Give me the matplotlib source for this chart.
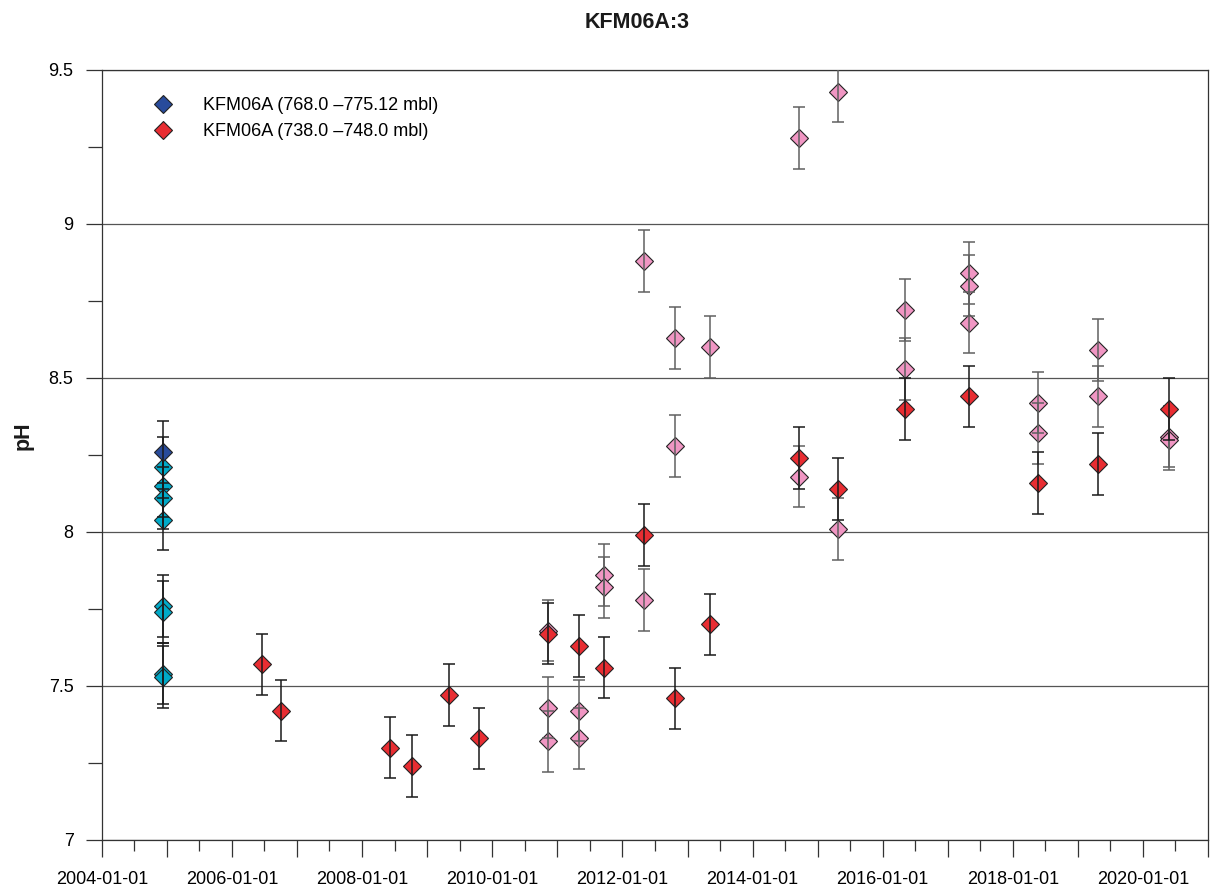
import matplotlib
matplotlib.use('Agg')
import matplotlib.pyplot as plt
import matplotlib.dates as mdates
from matplotlib.ticker import MultipleLocator, FuncFormatter
from matplotlib.lines import Line2D
import pandas as pd

plt.rcParams['font.family'] = ['Liberation Sans', 'DejaVu Sans']

title = 'KFM06A:3'
ylabel = 'pH'
label_blue = 'KFM06A (768.0 \u2013775.12 mbl)'
label_red = 'KFM06A (738.0 \u2013748.0 mbl)'

# KFM06A 768.0-775.12 m section
blue_dates = ['2004-12-06']
blue_ph = [8.26]
cyan_dates = ['2004-12-06'] * 8
cyan_ph = [8.21, 8.15, 8.11, 8.04, 7.76, 7.74, 7.54, 7.53]

# KFM06A 738.0-748.0 m section
red_dates = ['2006-06-16', '2006-10-04', '2008-06-03', '2008-10-08', '2009-05-05',
             '2009-10-19', '2010-11-10', '2011-05-01', '2011-09-20', '2012-05-01',
             '2012-10-22', '2013-05-05', '2014-09-16', '2015-04-27', '2016-05-05',
             '2017-05-01', '2018-05-22', '2019-04-22', '2020-05-26']
red_ph = [7.57, 7.42, 7.30, 7.24, 7.47,
          7.33, 7.67, 7.63, 7.56, 7.99,
          7.46, 7.70, 8.24, 8.14, 8.40,
          8.44, 8.16, 8.22, 8.40]
pink_dates = ['2010-11-10', '2010-11-10', '2010-11-10',
              '2011-05-01', '2011-05-01',
              '2011-09-20', '2011-09-20',
              '2012-05-01', '2012-05-01',
              '2012-10-20', '2012-10-20',
              '2013-05-05',
              '2014-09-16', '2014-09-16',
              '2015-04-27', '2015-04-27',
              '2016-05-05', '2016-05-05',
              '2017-05-01', '2017-05-01', '2017-05-01',
              '2018-05-22', '2018-05-22',
              '2019-04-22', '2019-04-22',
              '2020-05-26', '2020-05-26']
pink_ph = [7.68, 7.43, 7.32,
           7.42, 7.33,
           7.86, 7.82,
           8.88, 7.78,
           8.63, 8.28,
           8.60,
           9.28, 8.18,
           9.43, 8.01,
           8.72, 8.53,
           8.84, 8.80, 8.68,
           8.42, 8.32,
           8.59, 8.44,
           8.31, 8.30]
ph_err = 0.1

C_BLUE = '#284B9B'
C_CYAN = '#00AAC8'
C_RED = '#E82D32'
C_PINK = '#F096C3'
EDGE = '#222222'

W, H, DPI = 1210, 891, 100
fig = plt.figure(figsize=(W / DPI, H / DPI), dpi=DPI)
ax = fig.add_axes([102 / W, 1 - 840 / H, (1208 - 102) / W, (840 - 70) / H])

MS = 9.6


def draw(dates, vals, face, bar_color, z):
    x = pd.to_datetime(dates)
    ax.plot(x, vals, ls='none', marker='D', ms=MS, mfc=face, mec=EDGE,
            mew=0.8, zorder=z)
    ax.errorbar(x, vals, yerr=ph_err, fmt='none', ecolor=bar_color,
                elinewidth=1.1, capsize=4.2, capthick=1.1, zorder=z + 0.5)


draw(cyan_dates, cyan_ph, C_CYAN, '#1a1a1a', 3)
draw(pink_dates, pink_ph, C_PINK, '#606060', 3)
draw(blue_dates, blue_ph, C_BLUE, '#1a1a1a', 4)
draw(red_dates, red_ph, C_RED, '#1a1a1a', 4)

# axes ranges and ticks
ax.set_xlim(pd.Timestamp('2004-01-01'), pd.Timestamp('2021-01-01'))
ax.set_ylim(7, 9.5)

ax.xaxis.set_major_locator(mdates.YearLocator(1))
ax.xaxis.set_minor_locator(mdates.MonthLocator(bymonth=7))


def year_label(v, pos):
    d = mdates.num2date(v)
    return d.strftime('%Y-%m-%d') if d.year % 2 == 0 else ''


ax.xaxis.set_major_formatter(FuncFormatter(year_label))
ax.yaxis.set_major_locator(MultipleLocator(0.5))
ax.yaxis.set_minor_locator(MultipleLocator(0.25))
ax.yaxis.set_major_formatter(FuncFormatter(lambda v, p: '%g' % v))

ax.tick_params(axis='x', which='major', length=12.5, width=0.9, pad=10,
               labelsize=13, color='#333333')
ax.tick_params(axis='x', which='minor', length=8, width=0.9, color='#333333')
ax.tick_params(axis='y', which='major', length=11.5, width=0.9, pad=9,
               labelsize=13, color='#333333')
ax.tick_params(axis='y', which='minor', length=10, width=0.9, color='#333333')

ax.set_axisbelow(True)
ax.yaxis.grid(True, which='major', color='#555555', lw=0.9)
for s in ax.spines.values():
    s.set_color('#333333')
    s.set_linewidth(0.9)

# legend
handles = [
    Line2D([], [], ls='none', marker='D', ms=MS, mfc=C_BLUE, mec=EDGE, mew=0.8),
    Line2D([], [], ls='none', marker='D', ms=MS, mfc=C_RED, mec=EDGE, mew=0.8),
]
ax.legend(handles, [label_blue, label_red], loc='upper left',
          bbox_to_anchor=((154 - 102) / 1106, (840 - 97) / 770),
          frameon=False, fontsize=13, handlelength=1.0, handletextpad=1.7,
          labelspacing=0.5, borderpad=0, borderaxespad=0)

fig.text(637 / W, 1 - 22 / H, title, ha='center', va='center',
         fontsize=15.5, fontweight='bold', color='#1a1a1a')
fig.text(23 / W, 1 - 436 / H, ylabel, ha='center', va='center',
         rotation=90, fontsize=15.5, fontweight='bold', color='#1a1a1a')

fig.savefig('out.png', dpi=DPI)
